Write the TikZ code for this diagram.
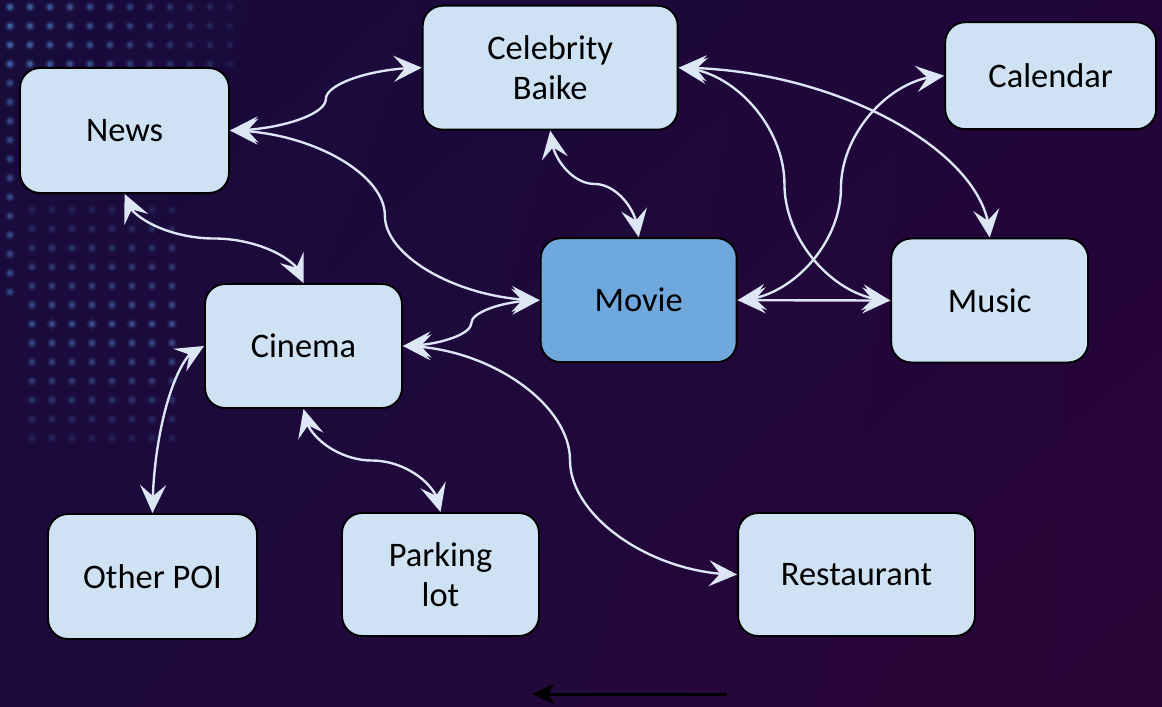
\documentclass[tikz,border=0pt]{standalone}
\usepackage{fontspec}
\setmainfont{Carlito}
\usetikzlibrary{arrows.meta,bending,calc,shadings}

\definecolor{boxfill}{HTML}{CFE2F3}
\definecolor{moviefill}{HTML}{6FA8DC}
\definecolor{linkcol}{HTML}{DCE6F4}
\definecolor{bgUL}{HTML}{170C3B}
\definecolor{bgUR}{HTML}{21053A}
\definecolor{bgLL}{HTML}{1D0A3D}
\definecolor{bgLR}{HTML}{2A0537}
\definecolor{dotcol}{HTML}{4F7CC4}

\tikzset{
  linktip/.tip={Stealth[length=0.56cm,width=0.52cm,inset=0.22cm]},
  box/.style={draw=black, line width=1.1pt, fill=boxfill, rounded corners=0.4cm,
    align=center, inner sep=0pt, text=black,
    font=\fontsize{19.6}{22.8}\selectfont},
  link/.style={draw=linkcol, line width=1.35pt, arrows={linktip-linktip}},
  % S-shaped connector leaving and entering horizontally
  hS/.style={to path={let \p1=(\tikztostart), \p2=(\tikztotarget) in
    .. controls ({\x1+0.25*(\x2-\x1)},\y1) and ({0.5*(\x1+\x2)},{\y1+0.25*(\y2-\y1)})
    .. ({0.5*(\x1+\x2)},{0.5*(\y1+\y2)})
    .. controls ({0.5*(\x1+\x2)},{\y1+0.75*(\y2-\y1)}) and ({\x1+0.75*(\x2-\x1)},\y2)
    .. (\tikztotarget)}},
  % S-shaped connector leaving and entering vertically
  vS/.style={to path={let \p1=(\tikztostart), \p2=(\tikztotarget) in
    .. controls (\x1,{\y1+0.25*(\y2-\y1)}) and ({\x1+0.25*(\x2-\x1)},{0.5*(\y1+\y2)})
    .. ({0.5*(\x1+\x2)},{0.5*(\y1+\y2)})
    .. controls ({\x1+0.75*(\x2-\x1)},{0.5*(\y1+\y2)}) and (\x2,{\y1+0.75*(\y2-\y1)})
    .. (\tikztotarget)}},
  % single bend: leaves horizontally, enters vertically
  hV/.style={to path={let \p1=(\tikztostart), \p2=(\tikztotarget) in
    .. controls ({0.5*(\x1+\x2)},\y1) and (\x2,{0.5*(\y1+\y2)}) .. (\tikztotarget)}},
  blackarrow/.style={draw=black, line width=1.7pt,
    arrows={-Stealth[length=0.44cm,width=0.4cm,inset=0.12cm]}}
}

\begin{document}
\begin{tikzpicture}[x=0.02cm,y=0.02cm]
\useasboundingbox (0,0) rectangle (1162,-706);

% background
\shade[upper left=bgUL, upper right=bgUR, lower left=bgLL, lower right=bgLR]
  (0,0) rectangle (1162,-706);

% faint dot matrix on the left
\foreach \i in {0,...,11}{
  \foreach \j in {0,...,3}{
    \pgfmathsetmacro\op{0.6*(1-\i/14)}
    \fill[dotcol, opacity=0.4*\op] ({10+20*\i},{-7-19*\j}) circle[radius=5];
    \fill[dotcol, opacity=\op] ({10+20*\i},{-7-19*\j}) circle[radius=2.8];
  }}
\foreach \j in {4,...,15}{
  \fill[dotcol, opacity=0.16] (10,{-7-19*\j}) circle[radius=5];
  \fill[dotcol, opacity=0.4] (10,{-7-19*\j}) circle[radius=2.8];
}
\foreach \i in {0,...,7}{
  \foreach \j in {0,...,12}{
    \pgfmathsetmacro\op{0.45*(1-abs(\j-6)/9)}
    \fill[dotcol, opacity=0.4*\op] ({32+20*\i},{-210-19*\j}) circle[radius=5];
    \fill[dotcol, opacity=\op] ({32+20*\i},{-210-19*\j}) circle[radius=2.8];
  }}

% boxes
\node[box, minimum width=4.18cm, minimum height=2.5cm]  (news)       at (124.5,-130.5) {News};
\node[box, minimum width=5.1cm,  minimum height=2.48cm] (baike)      at (550.2,-67.7)  {Celebrity\\Baike};
\node[box, minimum width=4.22cm, minimum height=2.14cm] (calendar)   at (1050.7,-75.7) {Calendar};
\node[box, fill=moviefill, minimum width=3.92cm, minimum height=2.48cm] (movie) at (638.7,-300.2) {Movie};
\node[box, minimum width=3.94cm, minimum height=2.48cm] (music)      at (989.7,-300.5) {Music};
\node[box, minimum width=3.94cm, minimum height=2.48cm] (cinema)     at (303.5,-346)   {Cinema};
\node[box, minimum width=4.18cm, minimum height=2.5cm]  (otherpoi)   at (152.5,-576.5) {Other POI};
\node[box, minimum width=3.94cm, minimum height=2.46cm] (parking)    at (440.5,-574.5) {Parking\\lot};
\node[box, minimum width=4.74cm, minimum height=2.46cm] (restaurant) at (856.5,-574.5) {Restaurant};

% connectors
\draw[link, hS] (news.east) to (baike.west);
\draw[link, hS] (news.east) to (movie.west);
\draw[link, vS] (news.south) to (cinema.north);
\draw[link, vS] (baike.south) to (movie.north);
\draw[link, hV] (baike.east) to (music.north);
\draw[link, hS] (baike.east) to (music.west);
\draw[link, hS] (movie.east) to (calendar.west);
\draw[link] (movie.east) -- (music.west);
\draw[link, hS] (movie.west) to (cinema.east);
\draw[link, hS] (cinema.east) to (restaurant.west);
\draw[link, hV] (cinema.west) to (otherpoi.north);
\draw[link, vS] (cinema.south) to (parking.north);

% arrow along the bottom edge
\coordinate (btail) at (727,-694);
\coordinate (bhead) at (532,-694);
\draw[blackarrow] (btail) -- (bhead);
\end{tikzpicture}
\end{document}
